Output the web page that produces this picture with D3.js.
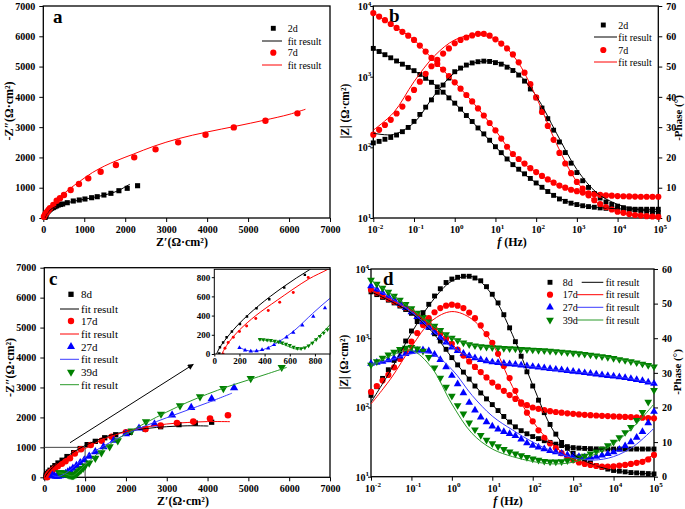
<!DOCTYPE html>
<html><head><meta charset="utf-8">
<script src="https://cdn.jsdelivr.net/npm/d3@7/dist/d3.min.js"></script>
<style>html,body{margin:0;padding:0;background:#fff;}svg{display:block;}</style>
</head><body>
<svg id="chart" width="685" height="509"></svg>
<script>
// ================= DATA =================
// Nyquist, panel a
const a2dX = [45,55,70,90,115,146,175,205,245,285,325,366,420,473,585,732,878,1017,1180,1317,1480,1651,1846,2049,2302];
const a2dY = [20,60,110,170,220,264,295,320,345,373,400,429,445,462,505,561,594,627,670,703,759,815,901,980,1066];
const a2dFitX = [40,55,80,120,180,260,380,550,750,1000,1250,1500,1750,1900,2000,2115];
const a2dFitY = [0,60,130,200,280,350,420,490,555,620,685,760,860,950,1030,1115];
const a7dX = [15,40,70,98,130,163,244,327,407,505,668,871,1098,1400,1773,2220,2741,3293,3961,4651,5424,6205];
const a7dY = [40,110,165,209,265,320,429,571,650,759,924,1122,1310,1528,1749,2003,2267,2498,2750,2992,3212,3455];
const a7dFitX = [20,60,120,200,300,450,650,900,1200,1500,1800,2200,2700,3300,4000,4700,5400,6000,6400];
const a7dFitY = [0,100,220,370,530,740,970,1220,1500,1720,1900,2110,2370,2620,2840,3030,3230,3420,3590];

// Nyquist, panel c
const c8X = [40,45,70,98,140,204,260,336,437,556,720,880,1050,1250,1480,1750,2100,2470,2850,3300,3700,4100];
const c8Y = [5,70,120,174,235,313,390,477,570,692,824,960,1090,1200,1320,1420,1500,1610,1690,1760,1810,1840];
const c8FitX = [18,40,100,200,350,550,760,1000,1500,2000,2500,3000,3500,4020];
const c8FitY = [0,60,170,320,500,700,880,1060,1350,1530,1630,1690,1720,1713];
const c17X = [70,85,110,151,200,257,330,429,520,628,747,899,1137,1406,1651,2000,2480,2850,3250,3650,4060,4500];
const c17Y = [0,59,120,174,235,292,370,452,540,640,797,935,1079,1222,1355,1500,1610,1730,1810,1860,1960,2070];
const c17FitX = [60,80,120,200,330,500,750,900,1000,1500,2000,2500,3000,3500,4000,4550];
const c17FitY = [0,50,130,250,400,560,780,880,960,1300,1520,1680,1780,1830,1860,1858];
const c27X = [200,245,290,336,380,429,475,522,575,628,700,787,880,980,1100,1250,1450,1700,2000,2320,2700,3130,3600,4100,4650];
const c27Y = [66,40,28,31,45,59,95,129,175,223,300,390,480,580,700,850,1020,1230,1450,1640,1780,2080,2330,2620,2990];
const c27FitX = [200,250,300,360,450,550,650,780,920,1100,1500,2000,2500,3000,3500,4000,4600];
const c27FitY = [70,40,30,35,80,160,260,420,580,760,1080,1440,1730,1990,2240,2490,2810];
const c39X = [363,390,420,450,480,510,540,570,600,630,660,690,720,750,780,810,840,870,900,950,1000,1100,1250,1400,1600,1800,2141,2492,2860,3325,3815,4387,5058,5817];
const c39Y = [153,150,146,142,136,128,118,105,90,72,60,58,66,85,115,150,185,220,255,300,380,480,640,820,1020,1220,1546,1858,2113,2393,2690,2968,3302,3674];
const c39FitX = [350,420,500,560,620,660,710,760,820,870,919,1000,1200,1500,2000,2500,3000,3500,4000,4500,5000,5500,5940];
const c39FitY = [150,140,120,95,62,50,60,100,170,235,303,410,660,1000,1450,1830,2180,2500,2780,3030,3250,3470,3670];

// Bode, shared frequencies (Hz)
const freq = [0.01,0.013895,0.019307,0.026827,0.037276,0.051795,0.071969,0.1,0.13895,0.19307,0.26827,0.37276,0.51795,0.71969,1,1.3895,1.9307,2.6827,3.7276,5.1795,7.1969,10,13.895,19.307,26.827,37.276,51.795,71.969,100,138.95,193.07,268.27,372.76,517.95,719.69,1000,1389.5,1930.7,2682.7,3727.6,5179.5,7196.9,10000,13895,19307,26827,37276,51795,71969,100000];
const fitFreq = [0.01,0.031623,0.1,0.31623,1,3.1623,10,31.623,100,316.23,1000,3162.3,10000,31623,100000];

// panel b
const b2dZ = [2512,2270,2046,1849,1667,1503,1352,1216,1076,948,832,716,603,501,422,347,282,232,188,155,126,102,84.1,68.4,56.9,49.0,42.2,36.3,31.3,27.2,23.7,20.9,18.6,17.2,16.2,15.5,14.9,14.5,14.2,13.9,13.7,13.6,13.5,13.4,13.3,13.3,13.3,13.3,13.3,13.3];
const b7dZ = [7943,7079,6310,5559,4898,4315,3802,3311,2754,2265,1841,1514,1259,1023,832,676,550,447,355,282,221,174,133,102,80.4,68.4,58.9,50.7,44.7,39.4,35.1,31.6,28.8,26.9,25.1,24.0,22.9,22.3,21.7,21.3,20.9,20.7,20.4,20.3,20.2,20.1,20.0,20.0,20.0,20.0];
const b2dPh = [24.8,25.3,26.0,26.6,27.4,28.5,29.9,31.9,34.2,36.6,39.0,41.5,43.9,46.2,48.3,49.5,50.5,51.2,51.6,51.8,51.7,51.3,50.8,49.8,48.7,47.2,45.2,42.6,39.7,36.3,32.8,29.0,25.1,21.6,18.1,15.0,12.3,10.1,8.1,6.6,5.3,4.5,3.9,3.4,3.0,2.7,2.4,2.2,2.0,1.8];
const b7dPh = [27.5,29.1,30.7,32.4,34.5,36.8,39.5,42.3,45.0,47.6,50.1,52.2,54.3,56.0,57.7,58.8,59.6,60.3,60.8,60.8,60.2,59.0,57.6,56.0,54.0,51.4,48.0,44.2,39.8,35.0,30.4,25.8,21.5,18.0,14.8,11.9,9.7,7.5,5.9,4.6,3.6,2.8,2.1,1.7,1.3,1.0,0.8,0.6,0.5,0.4];
const b2dZFit = [2512,1758,1216,776,422,209,102,52.5,31.3,20.0,15.5,14.1,13.5,13.3,13.3];
const b7dZFit = [7943,5248,3311,1660,832,398,174,72.4,44.7,29.5,24.0,21.1,20.4,20.1,20.0];
const b2dPhFit = [28.0,27.6,31.5,40.5,48.0,51.3,51.6,48.3,40.3,28.0,16.0,8.2,4.5,2.8,2.0];
const b7dPhFit = [29.0,34.8,45.0,53.5,58.8,60.5,59.0,52.5,40.0,24.5,12.0,5.0,2.0,1.0,0.5];

// panel d
const d8Z = [4677,4266,3890,3548,3236,2917,2600,2291,1995,1698,1429,1161,912,692,525,412,324,257,204,162,133,110,90.2,74.1,61.7,52.5,46.2,41.7,38.0,35.5,33.1,31.3,29.5,28.2,27.2,26.3,25.9,25.6,25.4,25.2,25.1,25.1,25.1,25.1,25.1,25.1,25.1,25.1,25.1,25.1];
const d8Ph = [23.5,26.0,28.4,30.9,33.6,36.3,39.2,42.1,44.8,47.4,49.8,52.2,54.3,56.1,57.1,57.6,57.9,57.9,57.4,56.6,54.9,52.7,50.2,46.8,43.0,39.0,34.8,30.3,26.2,22.1,18.5,15.1,12.3,9.9,8.2,6.8,5.7,4.8,4.0,3.2,2.7,2.2,1.8,1.6,1.4,1.2,1.1,1.0,0.9,0.8];
const d17Z = [5012,4539,4111,3724,3381,3062,2773,2512,2163,1862,1603,1380,1175,989,832,684,562,462,385,324,272,229,200,174,151,133,119,108,100,95.5,91.6,88.5,86.1,84.1,82.4,80.9,79.4,78.3,77.4,76.6,75.7,75.0,74.3,73.6,73.1,72.6,71.9,71.3,70.5,69.7];
const d17Ph = [24.5,26.2,27.8,29.4,31.6,34.0,36.5,39.0,41.5,43.8,45.8,47.5,48.7,49.4,49.7,49.4,48.7,47.4,45.8,43.7,41.2,38.7,35.5,32.0,28.5,24.8,21.1,18.5,16.0,13.4,11.2,9.6,8.3,6.8,5.7,4.8,4.1,3.7,3.4,3.1,2.9,2.9,3.0,3.2,3.4,3.7,4.0,4.3,5.0,6.3];
const d27Z = [5689,5070,4519,4027,3589,3162,2754,2399,2042,1718,1445,1216,1023,871,741,661,603,556,519,490,468,452,442,433,425,417,407,398,389,380,372,363,355,347,339,331,324,316,309,302,295,288,282,275,269,260,251,243,232,221];
const d27Ph = [32.7,33.0,33.3,33.7,34.2,34.8,35.5,36.1,36.5,36.6,36.3,35.3,33.8,31.7,29.2,26.8,24.2,21.4,19.2,17.2,15.8,14.6,13.7,13.0,12.4,11.8,10.8,9.7,9.0,8.5,8.0,7.5,7.1,6.7,6.3,6.0,5.8,5.6,5.6,5.8,6.2,6.6,7.1,7.9,8.9,10.0,11.3,13.0,15.5,18.8];
const d39Z = [6918,6067,5321,4656,4074,3565,3090,2679,2323,2009,1738,1507,1303,1130,1012,929,861,813,782,759,745,735,726,718,711,703,695,687,679,671,664,655,646,635,624,612,601,589,575,561,546,530,513,495,479,461,444,426,407,389];
const d39Ph = [32.3,33.3,34.3,35.2,36.0,36.8,37.2,37.4,37.0,36.3,34.5,31.5,28.5,25.9,23.3,20.6,18.2,15.6,13.6,12.0,10.6,9.6,8.7,7.9,7.2,6.6,6.1,5.6,5.2,4.8,4.5,4.3,4.3,4.4,4.7,5.0,5.5,6.0,6.6,7.3,8.0,9.0,10.0,11.3,12.8,14.3,16.3,18.6,21.6,25.0];
const d8ZFit = [4677,3388,2291,1259,525,229,110,56.2,38.0,30.2,26.3,25.1,25.1,25.1,25.1];
const d8PhFit = [21.5,31.0,41.5,50.5,56.5,57.8,52.5,41.0,26.5,13.5,6.5,3.5,1.8,1.1,0.8];
const d17ZFit = [5012,3548,2512,1479,832,417,229,141,100,86.5,80.9,76.1,74.3,72.6,69.7];
const d17PhFit = [21.0,28.5,37.5,45.0,47.7,45.5,38.5,26.0,16.0,9.3,5.0,3.3,3.0,3.8,6.3];
const d27ZFit = [5689,3802,2399,1318,741,537,452,421,389,351,331,305,282,255,221];
const d27PhFit = [32.5,33.8,35.5,35.5,31.0,23.5,17.5,13.5,10.0,7.3,5.5,4.8,5.8,8.8,14.0];
const d39ZFit = [6918,4365,2679,1585,1012,800,735,707,679,650,612,568,513,452,389];
const d39PhFit = [32.0,35.0,36.5,31.5,21.0,12.5,8.0,5.8,4.4,3.7,4.2,6.3,9.5,14.5,21.0];

// tick labels
const nyqTicks = [0,1000,2000,3000,4000,5000,6000,7000];
const insetTicks = [0,200,400,600,800];
const freqTicks = [0.01,0.1,1,10,100,1000,10000,100000];
const freqExp = ["-2","-1","0","1","2","3","4","5"];
const zTicks = [10,100,1000,10000];
const zExp = ["1","2","3","4"];
const phTicksB = [0,10,20,30,40,50,60,70];
const phTicksD = [0,10,20,30,40,50,60];

// ================= DRAWING =================
const FONT = '"Liberation Serif","Times New Roman",Times,serif';
const svg = d3.select("#chart");
const C = {k:"#000000", r:"#ff0000", b:"#0000ff", g:"#008000", lb:"#3b3bff", lg:"#2a9a2a"};
const SH = {sq:d3.symbolSquare, ci:d3.symbolCircle, tu:d3.symbolTriangle, td:d3.symbolTriangle};

function text(g,x,y,s,o={}){
  const t=g.append("text").attr("x",x).attr("y",y).attr("font-family",FONT)
    .attr("font-size",o.size||10).attr("font-weight",o.weight||"normal")
    .attr("text-anchor",o.anchor||"start").attr("fill","#000");
  if(o.baseline) t.attr("dominant-baseline",o.baseline);
  if(o.rotate) t.attr("transform",`rotate(${o.rotate},${x},${y})`);
  if(s!==null) t.text(s);
  return t;
}
function marks(g,xs,ys,xS,yS,shape,size,color){
  g.selectAll(null).data(xs.map((v,i)=>[v,ys[i]])).join("path")
    .attr("d",d3.symbol().type(SH[shape]).size(size)())
    .attr("transform",d=>`translate(${xS(d[0])},${yS(d[1])})`+(shape==="td"?" rotate(180)":""))
    .attr("fill",color);
}
function curve(g,xs,ys,xS,yS,color,w){
  g.append("path").datum(xs.map((v,i)=>[v,ys[i]]))
    .attr("d",d3.line().x(d=>xS(d[0])).y(d=>yS(d[1])).curve(d3.curveCatmullRom.alpha(0.5)))
    .attr("fill","none").attr("stroke",color).attr("stroke-width",w||1);
}
function styleAxis(ax,size){
  ax.select(".domain").remove();
  ax.selectAll(".tick line").attr("stroke","#000").attr("stroke-width",1);
  ax.selectAll(".tick text").attr("font-family",FONT).attr("font-weight","bold").attr("font-size",size).attr("fill","#000");
}
function frame(g,P,w){
  g.append("rect").attr("x",P.L).attr("y",P.T).attr("width",P.R-P.L).attr("height",P.B-P.T)
    .attr("fill","none").attr("stroke","#000").attr("stroke-width",w||1.3);
}
function legendRow(g,x,y,shape,color,size){
  g.append("path").attr("d",d3.symbol().type(SH[shape]).size(size)())
    .attr("transform",`translate(${x},${y})`+(shape==="td"?" rotate(180)":"")).attr("fill",color);
}
function legendLine(g,x1,x2,y,color){
  g.append("line").attr("x1",x1).attr("x2",x2).attr("y1",y).attr("y2",y).attr("stroke",color).attr("stroke-width",1);
}
function pow(g,x,y,exp,anchor){
  const t=text(g,x,y,null,{size:10,weight:"bold",anchor:anchor});
  t.append("tspan").text("10");
  t.append("tspan").attr("dy",-4.5).attr("font-size",7).text(exp);
}

// ---------- Nyquist panel ----------
function nyquist(P){
  const g=svg.append("g");
  const x=d3.scaleLinear().domain([0,7000]).range([P.L,P.R]);
  const y=d3.scaleLinear().domain([0,7000]).range([P.B,P.T]);
  styleAxis(g.append("g").attr("transform",`translate(0,${P.B})`)
    .call(d3.axisBottom(x).tickValues(nyqTicks).tickSize(4).tickPadding(4).tickFormat(d3.format("d"))),10);
  styleAxis(g.append("g").attr("transform",`translate(${P.L},0)`)
    .call(d3.axisLeft(y).tickValues(nyqTicks).tickSize(4).tickPadding(4).tickFormat(d3.format("d"))),10);
  frame(g,P);
  return {g,x,y};
}

// Panel a
const PA={L:43.3,R:330,T:6,B:218};
(function(){
  const {g,x,y}=nyquist(PA);
  marks(g,a2dX,a2dY,x,y,"sq",26,C.k);
  marks(g,a7dX,a7dY,x,y,"ci",32,C.r);
  curve(g,a2dFitX,a2dFitY,x,y,C.k,1);
  curve(g,a7dFitX,a7dFitY,x,y,C.r,1);
  text(g,53,22.5,"a",{size:19,weight:"bold"});
  text(g,182,245.5,"Z′(Ω·cm²)",{size:12,weight:"bold",anchor:"middle"});
  text(g,9,111,"-Z″(Ω·cm²)",{size:12,weight:"bold",anchor:"middle",rotate:-90,baseline:"central"});
  // legend
  legendRow(g,273.3,28.3,"sq",C.k,24); text(g,287.7,28.3,"2d",{baseline:"central"});
  legendLine(g,262,282,41,C.k); text(g,287.7,41,"fit result",{baseline:"central"});
  legendRow(g,273.3,52.7,"ci",C.r,30); text(g,287.7,52.7,"7d",{baseline:"central"});
  legendLine(g,262,282,65,C.r); text(g,287.7,65,"fit result",{baseline:"central"});
})();

// Panel c
const PC={L:44.3,R:330,T:267.7,B:477.3};
(function(){
  const {g,x,y}=nyquist(PC);
  // zoom box and arrow
  const boxCorner=1000;
  g.append("path").attr("d",`M${x(0)},${y(boxCorner)}L${x(boxCorner)},${y(boxCorner)}L${x(boxCorner)},${y(0)}`)
    .attr("fill","none").attr("stroke","#444").attr("stroke-width",1);
  marks(g,c8X,c8Y,x,y,"sq",28,C.k);
  marks(g,c17X,c17Y,x,y,"ci",34,C.r);
  marks(g,c27X,c27Y,x,y,"tu",30,C.b);
  marks(g,c39X,c39Y,x,y,"td",30,C.g);
  curve(g,c8FitX,c8FitY,x,y,C.k,1);
  curve(g,c17FitX,c17FitY,x,y,C.r,1);
  curve(g,c27FitX,c27FitY,x,y,C.lb,1);
  curve(g,c39FitX,c39FitY,x,y,C.lg,1);
  svg.append("defs").append("marker").attr("id","arr").attr("viewBox","0 0 10 10").attr("refX",9).attr("refY",5)
    .attr("markerWidth",8).attr("markerHeight",6).attr("orient","auto")
    .append("path").attr("d","M0,0L10,5L0,10z").attr("fill","#000");
  const aS=[630,1155], aE=[3650,3770];
  g.append("line").attr("x1",x(aS[0])).attr("y1",y(aS[1])).attr("x2",x(aE[0])).attr("y2",y(aE[1]))
    .attr("stroke","#000").attr("stroke-width",1).attr("marker-end","url(#arr)");
  text(g,49,285,"c",{size:19,weight:"bold"});
  text(g,183,505,"Z′(Ω·cm²)",{size:12,weight:"bold",anchor:"middle"});
  text(g,10,367.5,"-Z″(Ω·cm²)",{size:12,weight:"bold",anchor:"middle",rotate:-90,baseline:"central"});
  // legend
  const lx=71, tx=81, l1=60, l2=79;
  const rows=[[294.3,"sq",C.k,"8d",309,C.k],[321,"ci",C.r,"17d",334,C.r],[346.7,"tu",C.b,"27d",359.3,C.lb],[372,"td",C.g,"39d",384.7,C.lg]];
  rows.forEach(r=>{
    legendRow(g,lx,r[0],r[1],r[2],r[1]==="ci"?32:28); text(g,tx,r[0],r[3],{size:11,baseline:"central"});
    legendLine(g,l1,l2,r[4],r[5]); text(g,tx,r[4],"fit result",{size:11,baseline:"central"});
  });
  // inset
  const PI={L:214.3,R:330,T:269.3,B:354};
  const gi=svg.append("g");
  gi.append("rect").attr("x",PI.L).attr("y",PI.T).attr("width",PI.R-PI.L).attr("height",PI.B-PI.T).attr("fill","#fff");
  const xi=d3.scaleLinear().domain([0,920]).range([PI.L,PI.R]);
  const yi=d3.scaleLinear().domain([0,882]).range([PI.B,PI.T]);
  svg.append("defs").append("clipPath").attr("id","clipI").append("rect")
    .attr("x",PI.L).attr("y",PI.T).attr("width",PI.R-PI.L).attr("height",PI.B-PI.T);
  const gd=gi.append("g").attr("clip-path","url(#clipI)");
  curve(gd,c8FitX,c8FitY,xi,yi,C.k,1);
  curve(gd,c17FitX,c17FitY,xi,yi,C.r,1);
  curve(gd,c27FitX,c27FitY,xi,yi,C.lb,1);
  curve(gd,c39FitX,c39FitY,xi,yi,C.lg,1);
  marks(gd,c8X,c8Y,xi,yi,"sq",6,C.k);
  marks(gd,c17X,c17Y,xi,yi,"ci",7,C.r);
  marks(gd,c27X,c27Y,xi,yi,"tu",8,C.b);
  marks(gd,c39X,c39Y,xi,yi,"td",8,C.g);
  styleAxis(gi.append("g").attr("transform",`translate(0,${PI.B})`)
    .call(d3.axisBottom(xi).tickValues(insetTicks).tickSize(2.5).tickPadding(1.5)),9);
  styleAxis(gi.append("g").attr("transform",`translate(${PI.L},0)`)
    .call(d3.axisLeft(yi).tickValues(insetTicks).tickSize(2.5).tickPadding(1.5)),9);
  frame(gi,PI,1);
})();

// ---------- Bode panel ----------
function bode(P,phMax,phTicks){
  const g=svg.append("g");
  const x=d3.scaleLog().domain([0.01,1e5]).range([P.L,P.R]);
  const yZ=d3.scaleLog().domain([10,1e4]).range([P.B,P.T]);
  const yP=d3.scaleLinear().domain([0,phMax]).range([P.B,P.T]);
  styleAxis(g.append("g").attr("transform",`translate(0,${P.B})`).call(d3.axisBottom(x).tickValues(freqTicks).tickSize(4).tickFormat("")),10);
  styleAxis(g.append("g").attr("transform",`translate(${P.L},0)`).call(d3.axisLeft(yZ).tickValues(zTicks).tickSize(3).tickFormat("")),10);
  styleAxis(g.append("g").attr("transform",`translate(${P.R},0)`).call(d3.axisRight(yP).tickValues(phTicks).tickSize(4).tickPadding(4).tickFormat(d3.format("d"))),10);
  freqTicks.forEach((f,i)=>pow(g,x(f)+2,P.B+15,freqExp[i],"middle"));
  zTicks.forEach((z,i)=>pow(g,P.L-2,yZ(z)+4,zExp[i],"end"));
  frame(g,P);
  return {g,x,yZ,yP};
}

// Panel b
const PB={L:373.3,R:658.3,T:6,B:218};
(function(){
  const {g,x,yZ,yP}=bode(PB,70,phTicksB);
  marks(g,freq,b2dZ,x,yZ,"sq",24,C.k);
  marks(g,freq,b2dPh,x,yP,"sq",24,C.k);
  marks(g,freq,b7dZ,x,yZ,"ci",30,C.r);
  marks(g,freq,b7dPh,x,yP,"ci",30,C.r);
  curve(g,fitFreq,b2dZFit,x,yZ,C.k,1);
  curve(g,fitFreq,b2dPhFit,x,yP,C.k,1);
  curve(g,fitFreq,b7dZFit,x,yZ,C.r,1);
  curve(g,fitFreq,b7dPhFit,x,yP,C.r,1);
  text(g,389,21.5,"b",{size:19,weight:"bold"});
  const t=text(g,512,245.5,null,{size:12,weight:"bold",anchor:"middle"});
  t.append("tspan").attr("font-style","italic").text("f");
  t.append("tspan").text(" (Hz)");
  text(g,345,111,"|Z| (Ω·cm²)",{size:11.5,weight:"bold",anchor:"middle",rotate:-90,baseline:"central"});
  text(g,677.5,118,"-Phase (°)",{size:11,weight:"bold",anchor:"middle",rotate:-90,baseline:"central"});
  legendRow(g,603.3,25,"sq",C.k,24); text(g,618.3,25,"2d",{baseline:"central"});
  legendLine(g,594,617,37,C.k); text(g,618.3,37,"fit result",{baseline:"central"});
  legendRow(g,603.3,50,"ci",C.r,30); text(g,618.3,50,"7d",{baseline:"central"});
  legendLine(g,594,617,62,C.r); text(g,618.3,62,"fit result",{baseline:"central"});
})();

// Panel d
const PD={L:371,R:654,T:269,B:476.7};
(function(){
  const {g,x,yZ,yP}=bode(PD,60,phTicksD);
  const sets=[[d8Z,d8Ph,d8ZFit,d8PhFit,"sq",C.k,C.k,24],[d17Z,d17Ph,d17ZFit,d17PhFit,"ci",C.r,C.r,30],
              [d27Z,d27Ph,d27ZFit,d27PhFit,"tu",C.b,C.lb,26],[d39Z,d39Ph,d39ZFit,d39PhFit,"td",C.g,C.lg,26]];
  sets.forEach(s=>{
    marks(g,freq,s[0],x,yZ,s[4],s[7],s[5]);
    marks(g,freq,s[1],x,yP,s[4],s[7],s[5]);
  });
  sets.forEach(s=>{
    curve(g,fitFreq,s[2],x,yZ,s[6],1);
    curve(g,fitFreq,s[3],x,yP,s[6],1);
  });
  text(g,383,285,"d",{size:19,weight:"bold"});
  const t=text(g,508,505,null,{size:12,weight:"bold",anchor:"middle"});
  t.append("tspan").attr("font-style","italic").text("f");
  t.append("tspan").text(" (Hz)");
  text(g,344,362,"|Z| (Ω·cm²)",{size:11.5,weight:"bold",anchor:"middle",rotate:-90,baseline:"central"});
  text(g,676.5,372,"-Phase (°)",{size:11,weight:"bold",anchor:"middle",rotate:-90,baseline:"central"});
  const names=["8d","17d","27d","39d"], ys=[282.3,294.7,307.3,320], l1=[581.7,577,577,577];
  sets.forEach((s,i)=>{
    legendRow(g,550,ys[i],s[4],s[5],s[7]);
    text(g,562.7,ys[i],names[i],{baseline:"central"});
    legendLine(g,l1[i],603.3,ys[i],s[6]);
    text(g,605.7,ys[i],"fit result",{baseline:"central"});
  });
})();
</script>
</body></html>
